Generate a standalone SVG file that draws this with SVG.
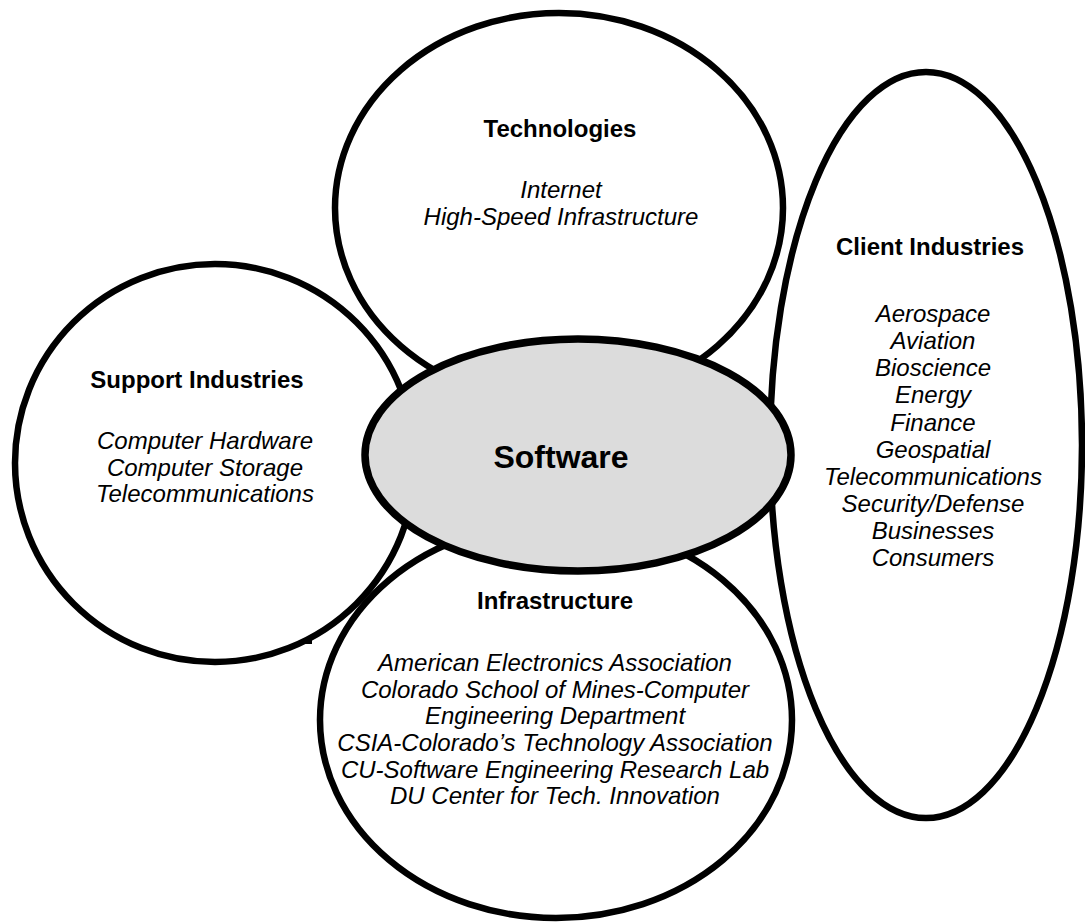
<svg xmlns="http://www.w3.org/2000/svg" width="1085" height="923" viewBox="0 0 1085 923">
<style>
.sh{fill:none;stroke:#000;stroke-width:6.5}
.hd{font-family:"Liberation Sans",Arial,sans-serif;font-weight:bold;font-size:24px;text-anchor:middle;fill:#000}
.it{font-family:"Liberation Sans",Arial,sans-serif;font-style:italic;font-size:24px;text-anchor:middle;fill:#000}
.sw{font-family:"Liberation Sans",Arial,sans-serif;font-weight:bold;font-size:32px;text-anchor:middle;fill:#000}
</style>
<rect width="1085" height="923" fill="#fff"/>
<g id="technologies">
<ellipse class="sh" cx="559" cy="208" rx="224" ry="195"/>
<text class="hd" x="560" y="137">Technologies</text>
<text class="it" x="561" y="198">Internet</text>
<text class="it" x="561" y="225">High-Speed Infrastructure</text>
</g>
<g id="client">
<ellipse class="sh" cx="926" cy="445" rx="156" ry="373"/>
<text class="hd" x="930" y="255">Client Industries</text>
<text class="it" x="933" y="322">Aerospace</text>
<text class="it" x="933" y="349">Aviation</text>
<text class="it" x="933" y="376">Bioscience</text>
<text class="it" x="933" y="403">Energy</text>
<text class="it" x="933" y="431">Finance</text>
<text class="it" x="933" y="458">Geospatial</text>
<text class="it" x="933" y="485">Telecommunications</text>
<text class="it" x="933" y="512">Security/Defense</text>
<text class="it" x="933" y="539">Businesses</text>
<text class="it" x="933" y="566">Consumers</text>
</g>
<g id="support">
<ellipse class="sh" cx="215" cy="463" rx="200" ry="199"/>
<text class="hd" x="197" y="388">Support Industries</text>
<text class="it" x="205" y="449">Computer Hardware</text>
<text class="it" x="205" y="476">Computer Storage</text>
<text class="it" x="205" y="502">Telecommunications</text>
<path d="M303 642 h9" stroke="#000" stroke-width="4"/>
</g>
<g id="infrastructure">
<ellipse class="sh" cx="556" cy="720" rx="236" ry="198"/>
<text class="hd" x="555" y="609">Infrastructure</text>
<text class="it" x="555" y="671">American Electronics Association</text>
<text class="it" x="555" y="698">Colorado School of Mines-Computer</text>
<text class="it" x="555" y="724">Engineering Department</text>
<text class="it" x="555" y="751">CSIA-Colorado’s Technology Association</text>
<text class="it" x="555" y="778">CU-Software Engineering Research Lab</text>
<text class="it" x="555" y="804">DU Center for Tech. Innovation</text>
</g>
<g id="software">
<ellipse cx="578" cy="455" rx="213" ry="116" fill="#dcdcdc" stroke="#000" stroke-width="7.5"/>
<text class="sw" x="561" y="468">Software</text>
</g>
<g id="connectors"/>
</svg>
